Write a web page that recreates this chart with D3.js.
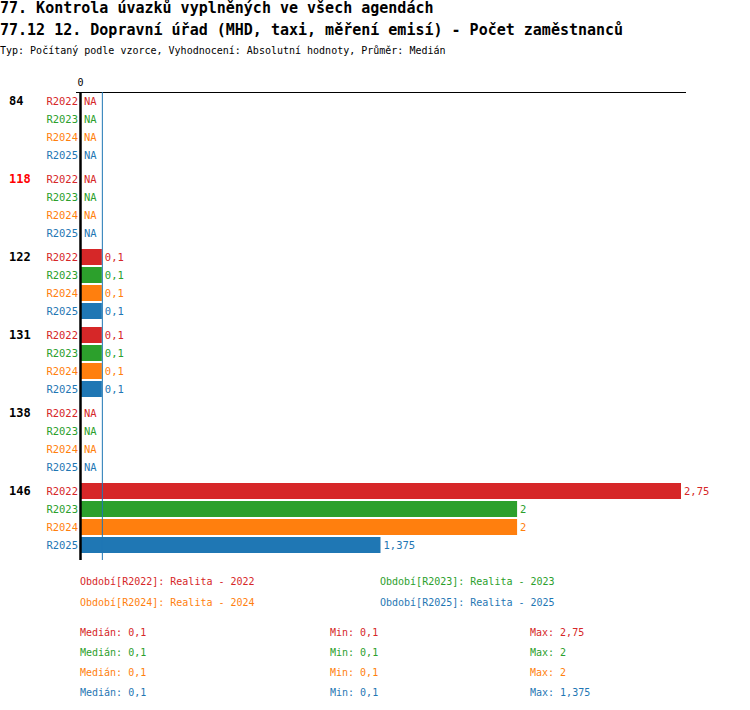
<!DOCTYPE html>
<html><head><meta charset="utf-8">
<script src="https://cdn.jsdelivr.net/npm/d3@7"></script>
<style>
body{margin:0;background:#fff;}
text{font-family:"DejaVu Sans Mono",monospace;}
</style></head>
<body>
<svg id="c" width="750" height="710"></svg>
<script>
const title1 = "77. Kontrola úvazků vyplněných ve všech agendách";
const title2 = "77.12 12. Dopravní úřad (MHD, taxi, měření emisí) - Počet zaměstnanců";
const subtitle = "Typ: Počítaný podle vzorce, Vyhodnocení: Absolutní hodnoty, Průměr: Medián";
const groups = ["84","118","122","131","138","146"];
const highlighted = ["118"];
const series = ["R2022","R2023","R2024","R2025"];
const colors = ["#d62728","#2ca02c","#ff7f0e","#1f77b4"];
const v2022 = [null,null,0.1,0.1,null,2.75];
const v2023 = [null,null,0.1,0.1,null,2];
const v2024 = [null,null,0.1,0.1,null,2];
const v2025 = [null,null,0.1,0.1,null,1.375];
const values = [v2022,v2023,v2024,v2025];
const legendLabels = ["Období[R2022]: Realita - 2022","Období[R2023]: Realita - 2023","Období[R2024]: Realita - 2024","Období[R2025]: Realita - 2025"];
const medians = [0.1,0.1,0.1,0.1];
const mins = [0.1,0.1,0.1,0.1];
const maxs = [2.75,2,2,1.375];
const xTicks = [0];

const fmt = v => String(v).replace(".", ",");
const svg = d3.select("#c");

svg.append("text").attr("x",0).attr("y",13).attr("font-size",15).attr("font-weight","bold").text(title1);
svg.append("text").attr("x",0).attr("y",35).attr("font-size",15).attr("font-weight","bold").text(title2);
svg.append("text").attr("x",0).attr("y",54).attr("font-size",10).text(subtitle);

const x = d3.scaleLinear().domain([0,2.75]).range([80,681]);
const yG = d3.scaleBand().domain(groups).range([92,560]);
const yS = d3.scaleBand().domain(series).range([0,72]);

// top axis
const ax = svg.append("g").attr("transform","translate(0,92)")
  .call(d3.axisTop(x).tickValues(xTicks).tickSize(0).tickPadding(6).tickFormat(fmt));
ax.select(".domain").remove();
ax.selectAll("text").attr("font-size",10).attr("font-family","DejaVu Sans Mono").attr("fill","#000");
svg.append("line").attr("x1",76).attr("x2",686).attr("y1",92.5).attr("y2",92.5).attr("stroke","#000").attr("stroke-width",1);

// group labels
svg.selectAll(".gl").data(groups).join("text")
  .attr("x",9).attr("y",d=>yG(d)+yS(series[0])+yS.bandwidth()/2).attr("dy","0.35em")
  .attr("font-size",12).attr("font-weight","bold")
  .attr("fill",d=>highlighted.includes(d)?"#ff0000":"#000").text(d=>d);

const rows = [];
groups.forEach((g,gi)=>series.forEach((s,si)=>rows.push({g,s,si,v:values[si][gi]})));
const cy = d => yG(d.g)+yS(d.s)+yS.bandwidth()/2;

svg.selectAll(".sl").data(rows).join("text")
  .attr("x",78).attr("y",cy).attr("dy","0.35em").attr("text-anchor","end")
  .attr("font-size",10.5).attr("fill",d=>colors[d.si]).text(d=>d.s);

svg.selectAll(".bar").data(rows.filter(d=>d.v!=null)).join("rect")
  .attr("x",x(0)).attr("y",d=>cy(d)-8).attr("height",16)
  .attr("width",d=>x(d.v)-x(0)).attr("fill",d=>colors[d.si]);

svg.selectAll(".vl").data(rows).join("text")
  .attr("x",d=>d.v==null? x(0)+4 : x(d.v)+3).attr("y",cy).attr("dy","0.35em")
  .attr("font-size",10.5).attr("fill",d=>colors[d.si])
  .text(d=>d.v==null?"NA":fmt(d.v));

// median line
svg.append("line").attr("x1",x(medians[3])+0.5).attr("x2",x(medians[3])+0.5).attr("y1",92).attr("y2",560)
  .attr("stroke","#1f77b4").attr("stroke-width",1);
// zero axis
svg.append("line").attr("x1",x(0)+0.5).attr("x2",x(0)+0.5).attr("y1",92).attr("y2",560)
  .attr("stroke","#000").attr("stroke-width",2.5);

// legend
const legPos = [[80,581],[380,581],[80,602],[380,602]];
svg.selectAll(".lg").data(legendLabels).join("text")
  .attr("x",(d,i)=>legPos[i][0]).attr("y",(d,i)=>legPos[i][1]).attr("dy","0.35em")
  .attr("font-size",10).attr("fill",(d,i)=>colors[i]).text(d=>d);

const statY = [632,652,672,692];
series.forEach((s,i)=>{
  svg.append("text").attr("x",80).attr("y",statY[i]).attr("dy","0.35em").attr("font-size",10).attr("fill",colors[i]).text("Medián: "+fmt(medians[i]));
  svg.append("text").attr("x",330).attr("y",statY[i]).attr("dy","0.35em").attr("font-size",10).attr("fill",colors[i]).text("Min: "+fmt(mins[i]));
  svg.append("text").attr("x",530).attr("y",statY[i]).attr("dy","0.35em").attr("font-size",10).attr("fill",colors[i]).text("Max: "+fmt(maxs[i]));
});
</script>
</body></html>
